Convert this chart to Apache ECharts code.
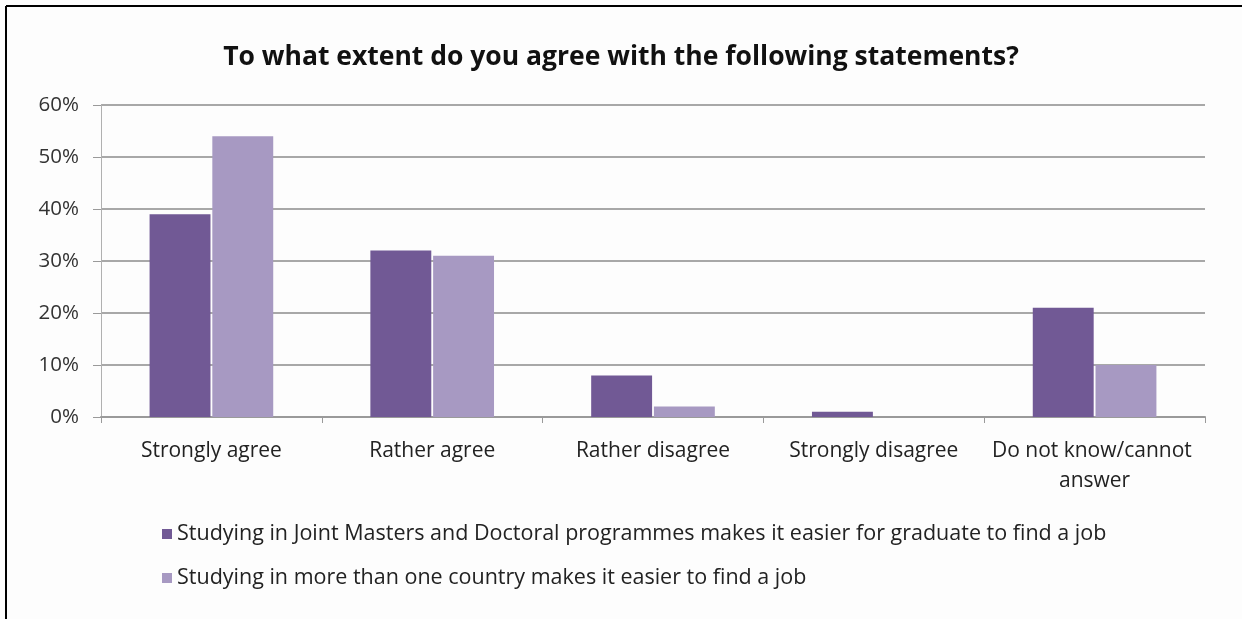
<!DOCTYPE html>
<html>
<head>
<meta charset="utf-8">
<script src="https://cdn.jsdelivr.net/npm/echarts@6/dist/echarts.min.js"></script>
<style>
  html, body { margin: 0; padding: 0; background: #fff; }
  #chart { width: 1242px; height: 619px; }
</style>
</head>
<body>
<div id="chart"></div>
<script>
// Survey answers, share of respondents (%)
const categories = ['Strongly agree', 'Rather agree', 'Rather disagree', 'Strongly disagree', 'Do not know/cannot answer'];
const seriesNames = [
  'Studying in Joint Masters and Doctoral programmes makes it easier for graduate to find a job',
  'Studying in more than one country makes it easier to find a job'
];
const jointProgrammes = [39, 32, 8, 1, 21];
const moreThanOneCountry = [54, 31, 2, 0, 10];
const yTicks = [0, 10, 20, 30, 40, 50, 60];

const chart = echarts.init(document.getElementById('chart'), null, { renderer: 'canvas' });
const FONT = 'Open Sans';

chart.setOption({
  backgroundColor: '#fdfdfd',
  animation: false,
  title: {
    text: 'To what extent do you agree with the following statements?',
    left: 'center',
    top: 39,
    textStyle: { fontFamily: FONT, fontWeight: 'bold', fontSize: 26.5, color: '#111' }
  },
  graphic: [
    { type: 'line', shape: { x1: 6, y1: 6, x2: 1242, y2: 6 }, style: { stroke: '#000', lineWidth: 2 } },
    { type: 'line', shape: { x1: 6, y1: 6, x2: 6, y2: 619 }, style: { stroke: '#000', lineWidth: 2 } }
  ],
  grid: { left: 101, right: 37, top: 105, height: 312, containLabel: false },
  legend: {
    orient: 'vertical',
    left: 157,
    top: 518,
    itemWidth: 10,
    itemHeight: 10,
    itemGap: 22,
    icon: 'rect',
    textStyle: { fontFamily: FONT, fontSize: 21.5, color: '#222' },
    data: seriesNames
  },
  xAxis: {
    type: 'category',
    data: categories,
    axisLine: { lineStyle: { color: '#9a9a9a', width: 2 } },
    axisTick: { show: true, length: 6, lineStyle: { color: '#9a9a9a', width: 1 } },
    axisLabel: {
      interval: 0,
      fontFamily: FONT, fontSize: 21, color: '#222', margin: 19,
      width: 225, overflow: 'break', lineHeight: 30
    }
  },
  yAxis: {
    type: 'value',
    min: 0,
    max: 60,
    interval: 10,
    axisLine: { show: true, lineStyle: { color: '#b0b0b0', width: 1 } },
    axisTick: { show: true, length: 8, lineStyle: { color: '#9a9a9a' } },
    axisLabel: {
      fontFamily: FONT, fontSize: 20.5, color: '#333', margin: 22,
      formatter: v => (yTicks.includes(v) ? v + '%' : '')
    },
    splitLine: { lineStyle: { color: '#a8a8a8', width: 2 } }
  },
  series: [
    {
      name: seriesNames[0],
      type: 'bar',
      data: jointProgrammes,
      barGap: '3%',
      barCategoryGap: '44%',
      itemStyle: { color: '#715995' }
    },
    {
      name: seriesNames[1],
      type: 'bar',
      data: moreThanOneCountry,
      itemStyle: { color: '#a799c2' }
    }
  ]
});
</script>
</body>
</html>
